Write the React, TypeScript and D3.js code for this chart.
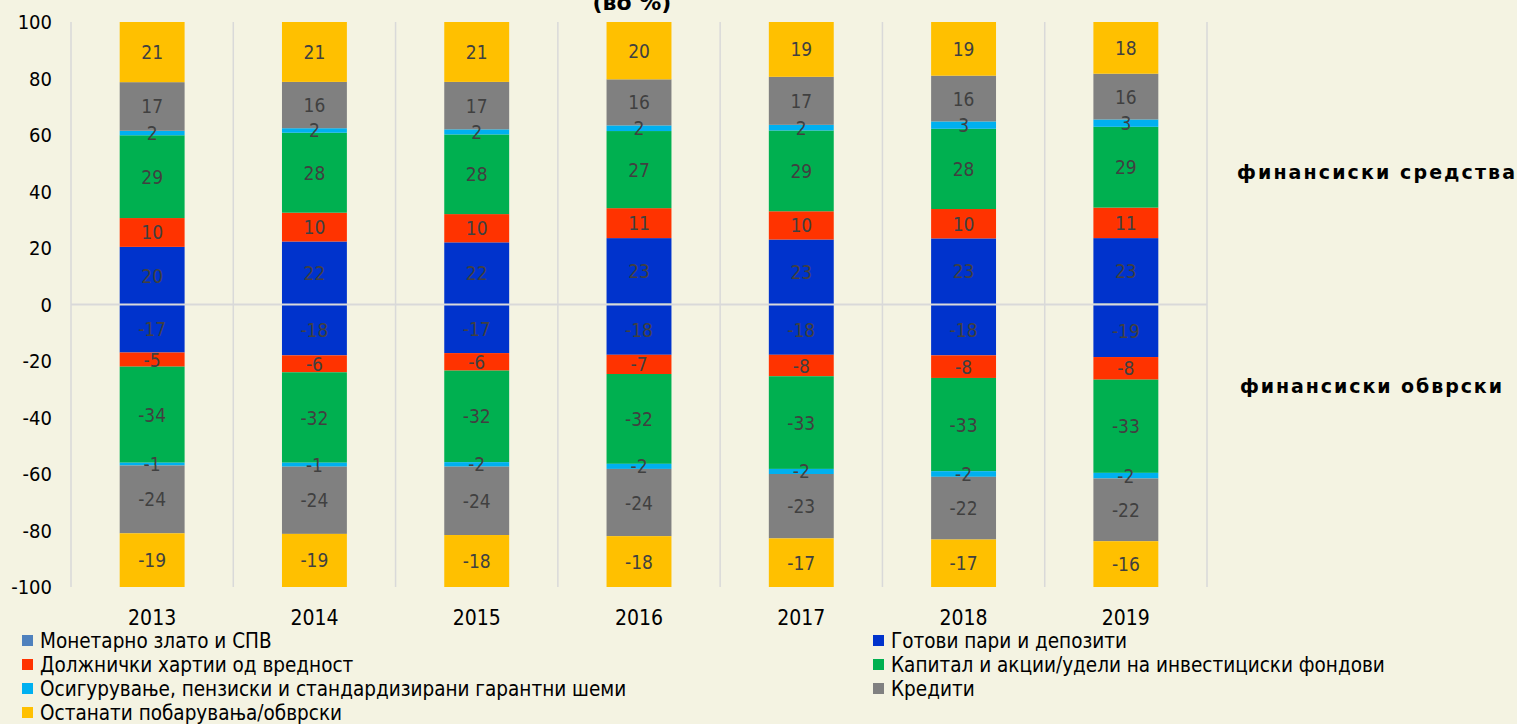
import React from "react";
import * as d3 from "d3";

const width = 1517;
const height = 724;

const years = ["2013", "2014", "2015", "2016", "2017", "2018", "2019"];
const seriesNames = [
  "Монетарно злато и СПВ",
  "Готови пари и депозити",
  "Должнички хартии од вредност",
  "Капитал и акции/удели на инвестициски фондови",
  "Осигурување, пензиски и стандардизирани гарантни шеми",
  "Кредити",
  "Останати побарувања/обврски",
];
const seriesColors = ["#4f81bd", "#0033cc", "#ff3300", "#00b050", "#00b0f0", "#808080", "#ffc000"];

// финансиски средства (assets), in %
const assetGold = [0, 0, 0, 0.5, 0, 0, 0.5];
const assetDeposits = [20.4, 22.3, 22.0, 23.0, 23.0, 23.4, 23.0];
const assetDebt = [10.2, 10.2, 10.0, 10.6, 10.0, 10.4, 10.8];
const assetEquity = [29.3, 28.3, 28.2, 27.3, 28.6, 28.4, 28.6];
const assetInsurance = [1.6, 1.6, 1.8, 2.0, 2.0, 2.6, 2.6];
const assetLoans = [17.2, 16.4, 16.8, 16.3, 17.0, 16.2, 16.2];
const assetOther = [21.3, 21.2, 21.2, 20.3, 19.4, 19.0, 18.3];

// финансиски обврски (liabilities), in %
const liabGold = [0, 0, 0, 0, 0, 0, 0];
const liabDeposits = [-17.0, -18.0, -17.2, -17.8, -17.8, -18.0, -18.6];
const liabDebt = [-5.0, -6.0, -6.2, -6.8, -7.6, -8.0, -8.0];
const liabEquity = [-34.0, -32.0, -32.4, -31.8, -32.8, -33.0, -33.0];
const liabInsurance = [-1.0, -1.4, -1.6, -1.8, -1.8, -2.0, -2.0];
const liabLoans = [-24.0, -23.8, -24.2, -23.8, -22.8, -22.2, -22.2];
const liabOther = [-19.0, -18.8, -18.4, -18.0, -17.2, -16.8, -16.2];

const yTicks = [100, 80, 60, 40, 20, 0, -20, -40, -60, -80, -100];

const assetSeries = [assetGold, assetDeposits, assetDebt, assetEquity, assetInsurance, assetLoans, assetOther];
const liabSeries = [liabGold, liabDeposits, liabDebt, liabEquity, liabInsurance, liabLoans, liabOther];

const font = "'DejaVu Sans Condensed', 'DejaVu Sans', sans-serif";

const App = () => {
  const x = d3.scaleBand().domain(years).range([71, 1207]).paddingInner(0.6).paddingOuter(0.3);
  const y = d3.scaleLinear().domain([-100, 100]).range([587, 22]);
  const step = x.step();

  const keys = seriesNames.map((_, i) => String(i));
  const toRows = (arr: number[][]) =>
    years.map((yr, j) => {
      const row: any = { year: yr };
      arr.forEach((s, i) => (row[String(i)] = s[j]));
      return row;
    });
  const stack = d3.stack<any>().keys(keys).offset(d3.stackOffsetDiverging);
  const stacks = [stack(toRows(assetSeries)), stack(toRows(liabSeries))];

  const gridX = d3.range(years.length + 1).map((i) => 71 + i * step);

  return (
    <div style={{ position: "absolute", left: 0, top: 0 }}>
      <svg width={width} height={height} style={{ display: "block", background: "#f4f3e2" }}>
        <rect width={width} height={height} fill="#f4f3e2" />
        <text x={632} y={10} textAnchor="middle" fontFamily="'DejaVu Sans', sans-serif" fontWeight="bold" fontSize={22}>
          (во %)
        </text>

        {gridX.map((gx, i) => (
          <line key={i} x1={gx} x2={gx} y1={y(100)} y2={y(-100)} stroke="#d9d9d9" strokeWidth={1.5} />
        ))}

        {yTicks.map((t) => (
          <text key={t} x={52} y={y(t)} textAnchor="end" dominantBaseline="central" fontFamily={font} fontSize={20} fill="#000">
            {t}
          </text>
        ))}

        {stacks.map((st, si) =>
          st.map((layer, li) => (
            <g key={`${si}-${li}`} fill={seriesColors[li]}>
              {layer.map((d: any) => (
                <rect
                  key={d.data.year}
                  x={x(d.data.year)}
                  width={x.bandwidth()}
                  y={y(Math.max(d[0], d[1]))}
                  height={Math.abs(y(d[0]) - y(d[1]))}
                />
              ))}
            </g>
          ))
        )}

        <line x1={71} x2={1207} y1={y(0)} y2={y(0)} stroke="#d9d9d9" strokeWidth={2} />

        {stacks.map((st, si) =>
          st.map((layer, li) =>
            li === 0
              ? null
              : layer.map((d: any) => (
                  <text
                    key={`${si}-${li}-${d.data.year}`}
                    x={(x(d.data.year) as number) + x.bandwidth() / 2}
                    y={y((d[0] + d[1]) / 2)}
                    textAnchor="middle"
                    dominantBaseline="central"
                    fontFamily={font}
                    fontSize={19}
                    fill="#404040"
                  >
                    {Math.round(d.data[String(li)])}
                  </text>
                ))
          )
        )}

        {years.map((yr) => (
          <text key={yr} x={(x(yr) as number) + x.bandwidth() / 2} y={625} textAnchor="middle" fontFamily={font} fontSize={21}>
            {yr}
          </text>
        ))}

        <text x={1237} y={y(47)} dominantBaseline="central" fontFamily="'DejaVu Sans', sans-serif" fontWeight="bold" fontSize={19} textLength={278} lengthAdjust="spacing">
          финансиски средства
        </text>
        <text x={1240} y={y(-29)} dominantBaseline="central" fontFamily="'DejaVu Sans', sans-serif" fontWeight="bold" fontSize={19} textLength={262} lengthAdjust="spacing">
          финансиски обврски
        </text>

        {seriesNames.map((name, i) => {
          const col = i % 2;
          const row = Math.floor(i / 2);
          const lx = col === 0 ? 22 : 873;
          const ly = 641 + row * 24;
          return (
            <g key={name}>
              <rect x={lx} y={ly - 6} width={11} height={11} fill={seriesColors[i]} />
              <text x={lx + 18} y={ly} dominantBaseline="central" fontFamily={font} fontSize={20.5} fill="#000">
                {name}
              </text>
            </g>
          );
        })}
      </svg>
    </div>
  );
};

export default App;
